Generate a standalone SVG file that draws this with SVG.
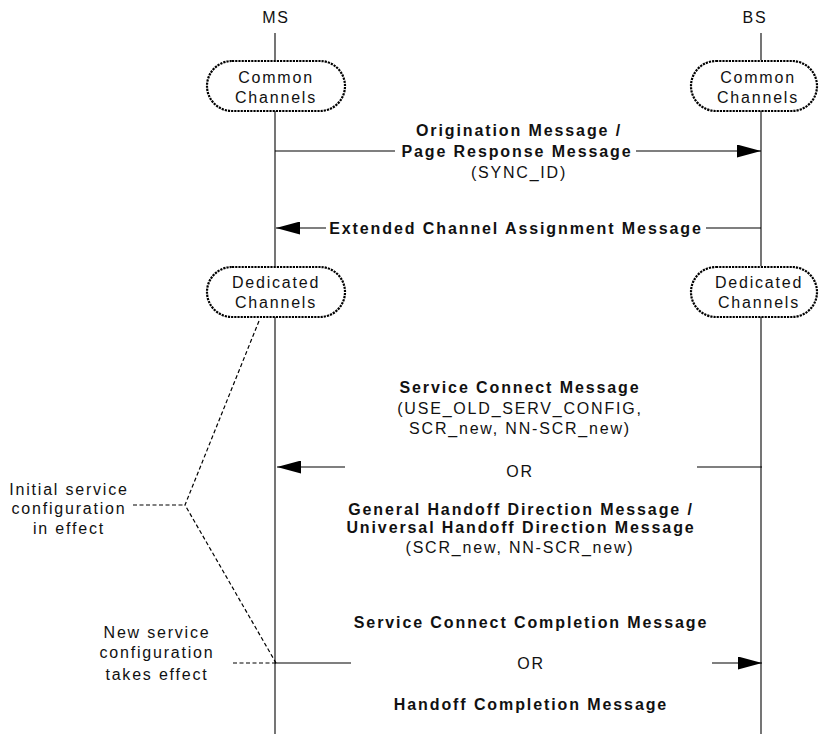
<svg xmlns="http://www.w3.org/2000/svg" width="820" height="734" viewBox="0 0 820 734">
  <style>
    text { font-family: "Liberation Sans", Arial, sans-serif; font-size: 16px; fill: #111; text-anchor: middle; }
    .reg { letter-spacing: 1.8px; }
    .bold { font-weight: bold; letter-spacing: 1.9px; }
    .life { stroke: #1a1a1a; stroke-width: 1.2; fill: none; }
    .chan { fill: #fff; stroke: #000; stroke-width: 2.2; stroke-dasharray: 2.2 1; }
    .msg { stroke: #000; stroke-width: 1.2; fill: none; }
    .note { stroke: #000; stroke-width: 1.2; fill: none; stroke-dasharray: 4 2.5; }
  </style>
  <defs>
    <marker id="head" markerUnits="userSpaceOnUse" viewBox="0 0 24 13" refX="24" refY="6.5" markerWidth="24" markerHeight="13" orient="auto">
      <path d="M0,0 L24,6.5 L0,13 Z" fill="#000"/>
    </marker>
  </defs>

  <rect width="820" height="734" fill="#fff"/>

  <!-- MS entity and lifeline -->
  <g id="ms">
    <text class="reg" x="276" y="23">MS</text>
    <line class="life" x1="275" y1="33" x2="275" y2="60"/>
    <line class="life" x1="275" y1="111" x2="275" y2="266"/>
    <line class="life" x1="275" y1="317" x2="275" y2="734"/>
  </g>

  <!-- BS entity and lifeline -->
  <g id="bs">
    <text class="reg" x="755" y="23">BS</text>
    <line class="life" x1="761" y1="33" x2="761" y2="60"/>
    <line class="life" x1="761" y1="111" x2="761" y2="266"/>
    <line class="life" x1="761" y1="317" x2="761" y2="734"/>
  </g>

  <g id="ms-common">
    <rect class="chan" x="207" y="61" width="138" height="50" rx="25" ry="25"/>
    <text class="reg" x="276" y="83">Common</text>
    <text class="reg" x="276" y="103">Channels</text>
  </g>

  <g id="bs-common">
    <rect class="chan" x="691" y="61" width="126" height="50" rx="25" ry="25"/>
    <text class="reg" x="758" y="83">Common</text>
    <text class="reg" x="758" y="103">Channels</text>
  </g>

  <g id="ms-dedicated">
    <rect class="chan" x="207" y="267" width="138" height="50" rx="25" ry="25"/>
    <text class="reg" x="276" y="288">Dedicated</text>
    <text class="reg" x="276" y="308">Channels</text>
  </g>

  <g id="bs-dedicated">
    <rect class="chan" x="691" y="267" width="126" height="50" rx="25" ry="25"/>
    <text class="reg" x="759" y="288">Dedicated</text>
    <text class="reg" x="759" y="308">Channels</text>
  </g>

  <!-- Messages between MS and BS -->
  <g id="connectors">
    <line class="msg" x1="275" y1="151" x2="395" y2="151"/>
    <line class="msg" x1="636" y1="151" x2="761" y2="151" marker-end="url(#head)"/>

    <line class="msg" x1="326" y1="228" x2="276" y2="228" marker-end="url(#head)"/>
    <line class="msg" x1="706" y1="228" x2="761" y2="228"/>

    <line class="msg" x1="345" y1="467" x2="277" y2="467" marker-end="url(#head)"/>
    <line class="msg" x1="697" y1="467" x2="762" y2="467"/>

    <line class="msg" x1="275" y1="663" x2="351" y2="663"/>
    <line class="msg" x1="712" y1="663" x2="762" y2="663" marker-end="url(#head)"/>

    <!-- annotation leaders -->
    <polyline class="note" points="259,321 185,505 276,663"/>
    <line class="note" x1="133" y1="505" x2="185" y2="505"/>
    <line class="note" x1="233" y1="663" x2="276" y2="663"/>
  </g>

  <g id="msg-origination">
    <text class="bold" x="519" y="136">Origination Message /</text>
    <text class="bold" x="517" y="157">Page Response Message</text>
    <text class="reg" x="519" y="178">(SYNC_ID)</text>
  </g>

  <g id="msg-ecam">
    <text class="bold" x="516" y="234">Extended Channel Assignment Message</text>
  </g>

  <g id="msg-service-connect">
    <text class="bold" x="520" y="393">Service Connect Message</text>
    <text class="reg" x="520" y="414">(USE_OLD_SERV_CONFIG,</text>
    <text class="reg" x="520" y="434">SCR_new, NN-SCR_new)</text>
    <text class="reg" x="520" y="477">OR</text>
    <text class="bold" x="521" y="515">General Handoff Direction Message /</text>
    <text class="bold" x="521" y="533">Universal Handoff Direction Message</text>
    <text class="reg" x="520" y="553">(SCR_new, NN-SCR_new)</text>
  </g>

  <g id="msg-completion">
    <text class="bold" x="531" y="628">Service Connect Completion Message</text>
    <text class="reg" x="531" y="669">OR</text>
    <text class="bold" x="531" y="710">Handoff Completion Message</text>
  </g>

  <g id="note-initial">
    <text class="reg" x="69" y="495">Initial service</text>
    <text class="reg" x="69" y="514">configuration</text>
    <text class="reg" x="69" y="534">in effect</text>
  </g>

  <g id="note-new">
    <text class="reg" x="157" y="638">New service</text>
    <text class="reg" x="157" y="658">configuration</text>
    <text class="reg" x="157" y="680">takes effect</text>
  </g>
</svg>
